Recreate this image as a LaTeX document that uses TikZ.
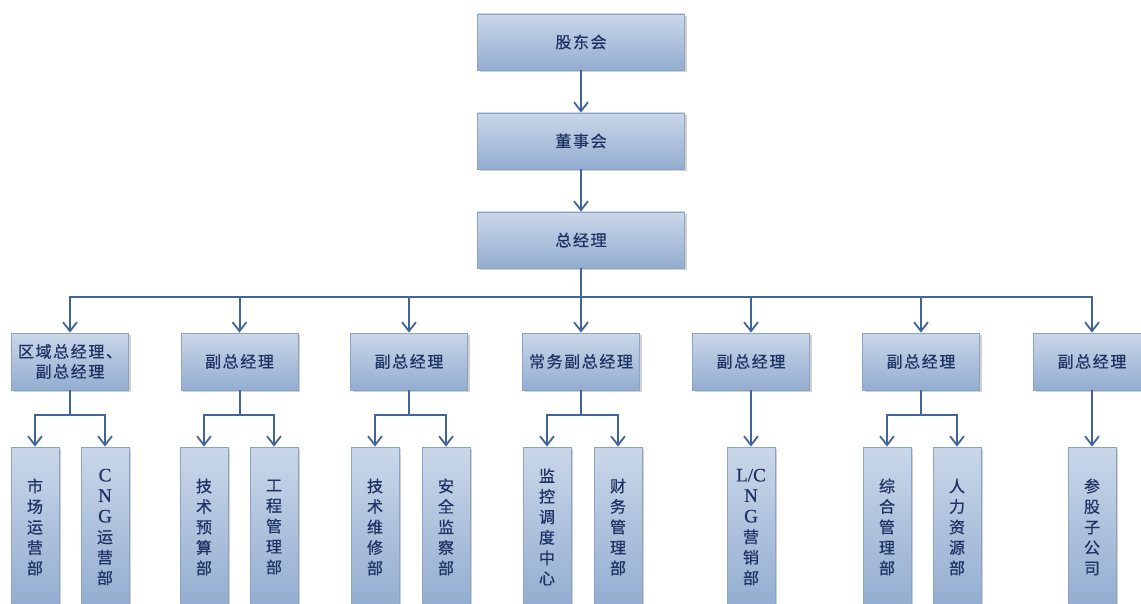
\documentclass[tikz,border=0pt]{standalone}
\usepackage{fontspec}
\setmainfont{Liberation Serif}
\newfontfamily\cjkf[LetterSpace=10,FakeBold=0.6]{Noto Sans CJK SC}
\newfontfamily\cjkv[FakeBold=0.6]{Noto Sans CJK SC}
\newfontfamily\latf[FakeBold=0.4]{Liberation Serif}
\usetikzlibrary{arrows.meta,shadows,calc}
\definecolor{txt}{HTML}{1E3364}
\definecolor{ln}{HTML}{41659A}
\definecolor{topc}{HTML}{CAD7E9}
\definecolor{botc}{HTML}{93ADD0}
\definecolor{edge}{HTML}{8CA3C4}
\newcommand\lt[1]{{\latf\fontsize{19}{20.5}\selectfont #1}}
\tikzset{
  box/.style={draw=edge, line width=0.8pt, top color=topc, bottom color=botc,
    drop shadow={shadow xshift=2pt, shadow yshift=-2pt, fill=black!30, opacity=0.6},
    inner sep=0pt, text=txt, align=center},
  hbox/.style={box, minimum width=207pt, minimum height=56pt, font=\cjkf\fontsize{16}{20}\selectfont},
  mbox/.style={box, minimum width=117pt, minimum height=57pt, font=\cjkf\fontsize{16}{20}\selectfont},
  vbox/.style={box, minimum width=48pt, minimum height=160pt, font=\cjkv\fontsize{16}{20.5}\selectfont},
  arr/.style={draw=ln, line width=2pt, -{Straight Barb[length=9pt,width=14pt,line width=1.8pt]}},
}
\begin{document}
\begin{tikzpicture}[x=1pt,y=-1pt]
\useasboundingbox (0,0) rectangle (1141,604);
\clip (0,0) rectangle (1141,604);
\node[hbox] (gd) at (581,42) {股东会};
\node[hbox] (bd) at (581,141) {董事会};
\node[hbox] (gm) at (581,240) {总经理};
\node[mbox] (m1) at (70,361.5) {区域总经理、\\副总经理};
\node[mbox] (m2) at (239.5,361.5) {副总经理};
\node[mbox] (m3) at (409,361.5) {副总经理};
\node[mbox] (m4) at (581,361.5) {常务副总经理};
\node[mbox] (m5) at (751,361.5) {副总经理};
\node[mbox] (m6) at (921,361.5) {副总经理};
\node[mbox] (m7) at (1092,361.5) {副总经理};
\node[vbox] (c11) at (35,527) {市\\场\\运\\营\\部};
\node[vbox] (c12) at (105,527) {\lt{C}\\\lt{N}\\\lt{G}\\运\\营\\部};
\node[vbox] (c21) at (204,527) {技\\术\\预\\算\\部};
\node[vbox] (c22) at (274,527) {工\\程\\管\\理\\部};
\node[vbox] (c31) at (375,527) {技\\术\\维\\修\\部};
\node[vbox] (c32) at (446,527) {安\\全\\监\\察\\部};
\node[vbox] (c41) at (547,527) {监\\控\\调\\度\\中\\心};
\node[vbox] (c42) at (618,527) {财\\务\\管\\理\\部};
\node[vbox] (c51) at (751,527) {\lt{L/C}\\\lt{N}\\\lt{G}\\营\\销\\部};
\node[vbox] (c61) at (887,527) {综\\合\\管\\理\\部};
\node[vbox] (c62) at (957,527) {人\\力\\资\\源\\部};
\node[vbox] (c71) at (1092,527) {参\\股\\子\\公\\司};
\coordinate (bus) at (0,297);
\coordinate (sub) at (0,415);
\draw[arr] (gd.south) -- (bd.north);
\draw[arr] (bd.south) -- (gm.north);
\foreach \m in {m1,m2,m3,m4,m5,m6,m7}{
  \draw[arr] (gm.south) -- (gm.south |- bus) -| (\m.north);
}
\foreach \m/\a/\b in {m1/c11/c12, m2/c21/c22, m3/c31/c32, m4/c41/c42, m6/c61/c62}{
  \draw[arr] (\m.south) -- (\m.south |- sub) -| (\a.north);
  \draw[arr] (\m.south) -- (\m.south |- sub) -| (\b.north);
}
\draw[arr] (m5.south) -- (c51.north);
\draw[arr] (m7.south) -- (c71.north);
\end{tikzpicture}
\end{document}
